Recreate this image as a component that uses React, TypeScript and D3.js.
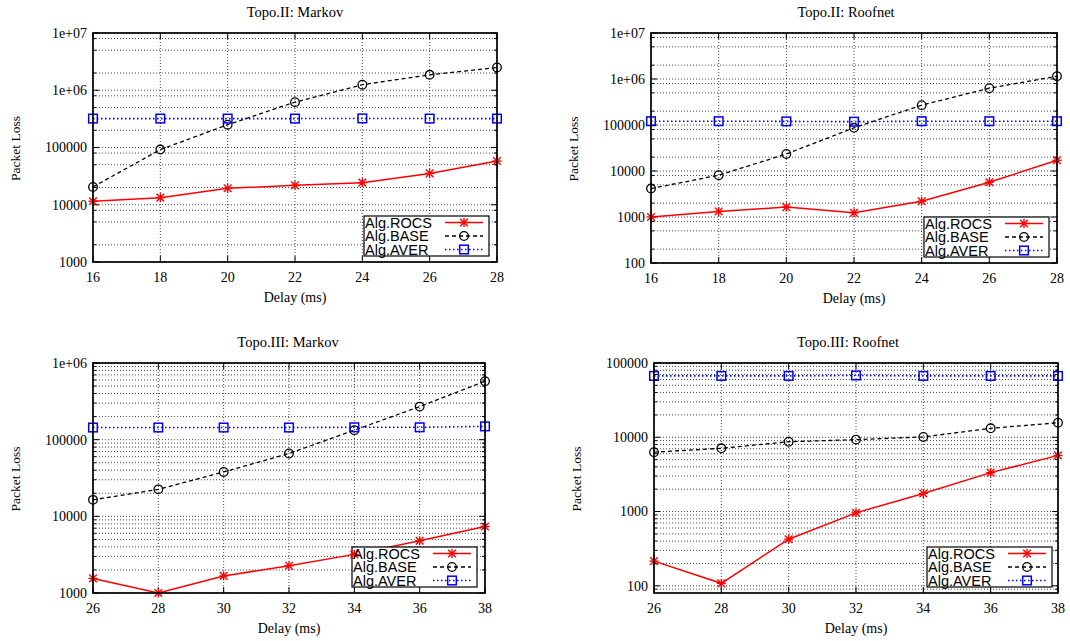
import React from "react";
import * as d3 from "d3";

// ---- data -------------------------------------------------------------
const DELAY_II = [16, 18, 20, 22, 24, 26, 28];
const DELAY_III = [26, 28, 30, 32, 34, 36, 38];

const II_MARKOV_ROCS = [11500, 13300, 19400, 21800, 24300, 35300, 58000];
const II_MARKOV_BASE = [20500, 92000, 250000, 620000, 1250000, 1860000, 2500000];
const II_MARKOV_AVER = [320000, 320000, 320000, 320000, 322000, 320000, 320000];

const II_ROOFNET_ROCS = [1000, 1320, 1640, 1230, 2200, 5700, 17100];
const II_ROOFNET_BASE = [4150, 8100, 23400, 87000, 270000, 630000, 1150000];
const II_ROOFNET_AVER = [121000, 121000, 120000, 118000, 121000, 121000, 121000];

const III_MARKOV_ROCS = [1550, 1000, 1670, 2270, 3190, 4800, 7370];
const III_MARKOV_BASE = [16400, 22500, 37900, 66000, 133000, 270000, 578000];
const III_MARKOV_AVER = [144000, 144000, 144000, 144000, 145000, 145000, 149000];

const III_ROOFNET_ROCS = [215, 108, 424, 960, 1750, 3340, 5700];
const III_ROOFNET_BASE = [6300, 7100, 8700, 9300, 10100, 13200, 15700];
const III_ROOFNET_AVER = [67000, 67000, 67000, 68000, 67000, 67000, 67000];

const SERIES_NAMES = ["Alg.ROCS", "Alg.BASE", "Alg.AVER"];

const II_MARKOV_YTICKS = [1000, 10000, 100000, 1e6, 1e7];
const II_ROOFNET_YTICKS = [100, 1000, 10000, 100000, 1e6, 1e7];
const III_MARKOV_YTICKS = [1000, 10000, 100000, 1e6];
const III_ROOFNET_YTICKS = [100, 1000, 10000, 100000];

const SPARSE_MINOR = [2, 5, 8];
const DENSE_MINOR = [2, 3, 4, 5, 6, 7, 8, 9];

// ---- styling ----------------------------------------------------------
const SERIF = "'Liberation Serif', 'Times New Roman', serif";
const SANS = "'Liberation Sans', Arial, sans-serif";
const STYLES = [
  { color: "#ff0000", dash: undefined as string | undefined, width: 1.5, marker: "star" },
  { color: "#000000", dash: "4,3", width: 1.3, marker: "circle" },
  { color: "#0000ff", dash: "1.5,2.5", width: 1.6, marker: "square" },
];

function fmtTick(v: number): string {
  if (v >= 1e6) {
    const e = Math.round(Math.log10(v));
    return `1e+${String(e).padStart(2, "0")}`;
  }
  return String(v);
}

function Marker({ kind, x, y, color }: { kind: string; x: number; y: number; color: string }) {
  const r = 4.5;
  if (kind === "star") {
    const d = r * 0.85;
    return (
      <g stroke={color} strokeWidth={1.4}>
        <line x1={x - r} y1={y} x2={x + r} y2={y} />
        <line x1={x} y1={y - r} x2={x} y2={y + r} />
        <line x1={x - d} y1={y - d} x2={x + d} y2={y + d} />
        <line x1={x - d} y1={y + d} x2={x + d} y2={y - d} />
      </g>
    );
  }
  if (kind === "circle") {
    return <circle cx={x} cy={y} r={4.3} fill="none" stroke={color} strokeWidth={1.3} />;
  }
  return <rect x={x - 4.3} y={y - 4.3} width={8.6} height={8.6} fill="none" stroke={color} strokeWidth={1.5} />;
}

type PanelProps = {
  left: number;
  top: number;
  width: number;
  height: number;
  xs: number[];
  yDomain: [number, number];
  yTicks: number[];
  minor: number[];
  title: string;
  titleX: number;
  series: number[][];
  legendRightGap: number;
};

function Panel(p: PanelProps) {
  const x = d3.scaleLinear().domain([p.xs[0], p.xs[p.xs.length - 1]]).range([p.left, p.left + p.width]);
  const y = d3.scaleLog().domain(p.yDomain).range([p.top + p.height, p.top]);
  const right = p.left + p.width;
  const bottom = p.top + p.height;

  // minor positions on the log axis
  const minorVals: number[] = [];
  const lo = Math.floor(Math.log10(p.yDomain[0]));
  const hi = Math.ceil(Math.log10(p.yDomain[1]));
  for (let e = lo; e < hi; e++) {
    for (const m of p.minor) {
      const v = m * Math.pow(10, e);
      if (v > p.yDomain[0] * 1.0001 && v < p.yDomain[1] * 0.9999) minorVals.push(v);
    }
  }

  const grid = { stroke: "#000", strokeWidth: 0.9, strokeDasharray: "1,2", opacity: 0.8 };

  const line = d3
    .line<[number, number]>()
    .x((d) => x(d[0]))
    .y((d) => y(d[1]));

  const legW = 125;
  const legH = 40;
  const legX = right - p.legendRightGap - legW;
  const legY = bottom - 6 - legH;

  return (
    <g>
      {/* grid */}
      {p.yTicks.concat(minorVals).map((v, i) => (
        <line key={`gy${i}`} x1={p.left} x2={right} y1={y(v)} y2={y(v)} {...grid} />
      ))}
      {p.xs.map((v, i) => (
        <line key={`gx${i}`} x1={x(v)} x2={x(v)} y1={p.top} y2={bottom} {...grid} />
      ))}

      {/* tick marks, mirrored */}
      <g stroke="#000" strokeWidth={1}>
        {p.yTicks.map((v, i) => (
          <g key={`ty${i}`}>
            <line x1={p.left} x2={p.left + 6} y1={y(v)} y2={y(v)} />
            <line x1={right} x2={right - 6} y1={y(v)} y2={y(v)} />
          </g>
        ))}
        {minorVals.map((v, i) => (
          <g key={`tm${i}`}>
            <line x1={p.left} x2={p.left + 3} y1={y(v)} y2={y(v)} />
            <line x1={right} x2={right - 3} y1={y(v)} y2={y(v)} />
          </g>
        ))}
        {p.xs.map((v, i) => (
          <g key={`tx${i}`}>
            <line x1={x(v)} x2={x(v)} y1={bottom} y2={bottom - 6} />
            <line x1={x(v)} x2={x(v)} y1={p.top} y2={p.top + 6} />
          </g>
        ))}
      </g>

      {/* series lines */}
      {p.series.map((vals, si) => (
        <path
          key={`s${si}`}
          d={line(p.xs.map((xv, i) => [xv, vals[i]] as [number, number])) || ""}
          fill="none"
          stroke={STYLES[si].color}
          strokeWidth={STYLES[si].width}
          strokeDasharray={STYLES[si].dash}
        />
      ))}

      {/* key box */}
      <rect x={legX} y={legY} width={legW} height={legH} fill="#fff" stroke="#000" strokeWidth={1.2} />

      {/* series markers */}
      {p.series.map((vals, si) =>
        p.xs.map((xv, i) => (
          <Marker key={`m${si}-${i}`} kind={STYLES[si].marker} x={x(xv)} y={y(vals[i])} color={STYLES[si].color} />
        ))
      )}

      {/* key entries */}
      {SERIES_NAMES.map((name, si) => {
        const cy = legY + 6.5 + si * 13.5;
        const l1 = legX + 81;
        const l2 = legX + 119;
        return (
          <g key={`k${si}`}>
            <text x={legX + 1} y={cy} dy="0.36em" fontFamily={SANS} fontSize={14.5} fill="#000">
              {name}
            </text>
            <line
              x1={l1}
              x2={l2}
              y1={cy}
              y2={cy}
              stroke={STYLES[si].color}
              strokeWidth={STYLES[si].width}
              strokeDasharray={STYLES[si].dash}
            />
            <Marker kind={STYLES[si].marker} x={(l1 + l2) / 2} y={cy} color={STYLES[si].color} />
          </g>
        );
      })}

      {/* frame */}
      <rect x={p.left} y={p.top} width={p.width} height={p.height} fill="none" stroke="#000" strokeWidth={1.7} />

      {/* tick labels */}
      {p.yTicks.map((v, i) => (
        <text key={`ly${i}`} x={p.left - 6} y={y(v)} dy="0.35em" textAnchor="end" fontFamily={SERIF} fontSize={14} fill="#000">
          {fmtTick(v)}
        </text>
      ))}
      {p.xs.map((v, i) => (
        <text key={`lx${i}`} x={x(v)} y={bottom + 20} textAnchor="middle" fontFamily={SERIF} fontSize={14} fill="#000">
          {v}
        </text>
      ))}

      {/* titles */}
      <text x={p.titleX} y={p.top - 16} textAnchor="middle" fontFamily={SERIF} fontSize={14.5} fill="#000">
        {p.title}
      </text>
      <text x={(p.left + right) / 2} y={bottom + 40} textAnchor="middle" fontFamily={SERIF} fontSize={14} fill="#000">
        Delay (ms)
      </text>
      <text
        transform={`translate(${p.left - 78},${p.top + p.height / 2 + 1}) rotate(-90)`}
        textAnchor="middle"
        dy="0.35em"
        fontFamily={SERIF}
        fontSize={13.5}
        fill="#000"
      >
        Packet Loss
      </text>
    </g>
  );
}

export default function App() {
  return (
    <svg
      width={1070}
      height={641}
      viewBox="0 0 1070 641"
      style={{ position: "absolute", left: 0, top: 0, background: "#fff" }}
    >
      <rect x={0} y={0} width={1070} height={641} fill="#fff" />
      <Panel
        left={93}
        top={33}
        width={404}
        height={229}
        xs={DELAY_II}
        yDomain={[1000, 1e7]}
        yTicks={II_MARKOV_YTICKS}
        minor={SPARSE_MINOR}
        title="Topo.II: Markov"
        titleX={295}
        series={[II_MARKOV_ROCS, II_MARKOV_BASE, II_MARKOV_AVER]}
        legendRightGap={8}
      />
      <Panel
        left={651}
        top={33}
        width={406}
        height={230}
        xs={DELAY_II}
        yDomain={[100, 1e7]}
        yTicks={II_ROOFNET_YTICKS}
        minor={SPARSE_MINOR}
        title="Topo.II: Roofnet"
        titleX={846}
        series={[II_ROOFNET_ROCS, II_ROOFNET_BASE, II_ROOFNET_AVER]}
        legendRightGap={8}
      />
      <Panel
        left={93}
        top={363}
        width={392}
        height={230}
        xs={DELAY_III}
        yDomain={[1000, 1e6]}
        yTicks={III_MARKOV_YTICKS}
        minor={DENSE_MINOR}
        title="Topo.III: Markov"
        titleX={288}
        series={[III_MARKOV_ROCS, III_MARKOV_BASE, III_MARKOV_AVER]}
        legendRightGap={8}
      />
      <Panel
        left={654}
        top={363}
        width={404}
        height={230}
        xs={DELAY_III}
        yDomain={[80, 100000]}
        yTicks={III_ROOFNET_YTICKS}
        minor={DENSE_MINOR}
        title="Topo.III: Roofnet"
        titleX={848}
        series={[III_ROOFNET_ROCS, III_ROOFNET_BASE, III_ROOFNET_AVER]}
        legendRightGap={6}
      />
    </svg>
  );
}
